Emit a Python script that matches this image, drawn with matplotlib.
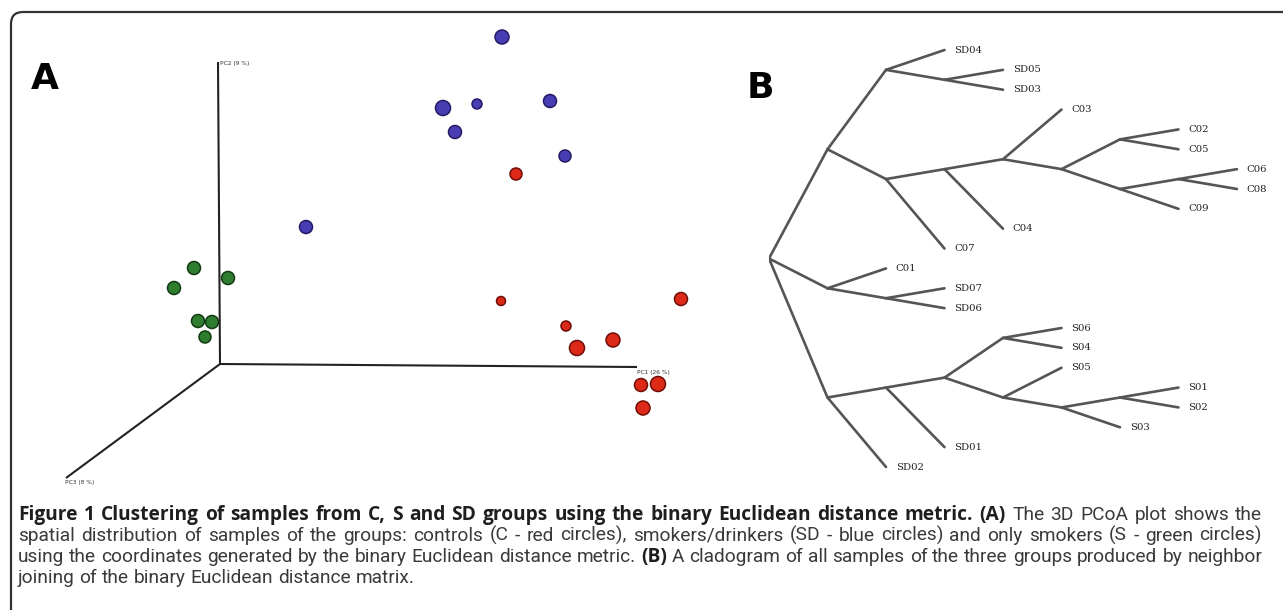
import numpy as np
import matplotlib
matplotlib.use("Agg")
import matplotlib.pyplot as plt
from matplotlib.patches import FancyBboxPatch

W, H, DPI = 1283, 610, 100

# ---- panel A: projected PCoA coordinates (screen units, origin = corner of the axes)
sd_x = [2.82, 2.23, 2.57, 3.30, 2.35, 3.45, 0.86]
sd_y = [3.27, 2.56, 2.60, 2.63, 2.32, 2.08, 1.37]
sd_depth = [0.71, 0.86, 0.14, 0.57, 0.57, 0.43, 0.57]

c_x = [2.96, 2.81, 4.61, 3.46, 3.57, 3.93, 4.21, 4.38, 4.23]
c_y = [1.90, 0.63, 0.65, 0.38, 0.16, 0.24, -0.21, -0.20, -0.44]
c_depth = [0.43, 0.00, 0.57, 0.14, 0.86, 0.71, 0.57, 0.86, 0.71]

s_x = [-0.26, 0.08, -0.46, -0.22, -0.08, -0.15]
s_y = [0.96, 0.86, 0.76, 0.43, 0.42, 0.27]
s_depth = [0.57, 0.57, 0.57, 0.57, 0.57, 0.43]

axis_labels = ["PC1 (26 %)", "PC2 (9 %)", "PC3 (8 %)"]

# ---- panel B: neighbor joining cladogram topology
tree = ((("SD04", ("SD05", "SD03")),
         ((("C03", (("C02", "C05"), (("C06", "C08"), "C09"))), "C04"), "C07")),
        ("C01", ("SD07", "SD06")),
        (((("S06", "S04"), ("S05", (("S01", "S02"), "S03"))), "SD01"), "SD02"))

caption = [
    [("Figure 1 Clustering of samples from C, S and SD groups using the binary Euclidean distance metric.", True),
     ("(A)", True), ("The 3D PCoA plot shows the", False)],
    [("spatial distribution of samples of the groups: controls (C - red circles), smokers/drinkers "
      "(SD - blue circles) and only smokers (S - green circles)", False)],
    [("using the coordinates generated by the binary Euclidean distance metric.", False), ("(B)", True),
     ("A cladogram of all samples of the three groups produced by neighbor", False)],
    [("joining of the binary Euclidean distance matrix.", False)],
]
bold_family = "Open Sans"
reg_family = "Roboto"

fig = plt.figure(figsize=(W / DPI, H / DPI), dpi=DPI)
fig.patch.set_facecolor("white")

# background axes in pixel units: frame, panel letters, caption
bg = fig.add_axes([0, 0, 1, 1])
bg.set_xlim(0, W)
bg.set_ylim(H, 0)
bg.axis("off")
frame = FancyBboxPatch((11, 12), W + 100, H + 100, boxstyle="round,pad=0,rounding_size=12",
                       fill=False, ec="#333333", lw=1.6)
bg.add_patch(frame)
bg.text(31, 89, "A", fontsize=26, fontweight="heavy", family="DejaVu Sans", va="baseline", ha="left")
bg.text(747, 98, "B", fontsize=26, fontweight="heavy", family="DejaVu Sans", va="baseline", ha="left")

# caption: words laid out one by one, lines 1-3 justified
renderer = fig.canvas.get_renderer()


def font_kw(bold, size):
    if bold:
        return dict(fontsize=size, family=bold_family, fontweight="bold")
    return dict(fontsize=size, family=reg_family, fontweight="normal")


def word_width(s, bold, size):
    t = bg.text(0, 0, s, **font_kw(bold, size))
    w = t.get_window_extent(renderer).width
    t.remove()
    return w


def split_words(line):
    return [(w, b) for s, b in line for w in s.split()]


left, right = 18, 1262
base = 10
space0 = word_width("a b", False, base) - word_width("ab", False, base)
natural = []
for line in caption:
    words = split_words(line)
    natural.append(sum(word_width(w, b, base) for w, b in words) + space0 * (len(words) - 1))
cap_size = base * (right - left) / max(natural[:3])

baselines = [520, 541, 562, 583]
for i, (line, yb) in enumerate(zip(caption, baselines)):
    words = split_words(line)
    widths = [word_width(w, b, cap_size) for w, b in words]
    if i < 3:
        gap = (right - left - sum(widths)) / (len(words) - 1)
    else:
        gap = space0 * cap_size / base
    x = left
    for (w, b), wd in zip(words, widths):
        bg.text(x, yb, w, color="#1e1e1e" if b else "#3a3a3a", va="baseline", ha="left",
                **font_kw(b, cap_size))
        x += wd + gap

# ---- panel A
axA = fig.add_axes([20 / W, 1 - 504 / H, 740 / W, 500 / H])
axA.set_xlim(-2.0, 5.4)
axA.set_ylim(-1.4, 3.6)
axA.axis("off")
axA.plot([0, 4.17], [0, -0.03], color="#222222", lw=1.5, solid_capstyle="butt")
axA.plot([0, -0.02], [0, 3.02], color="#222222", lw=1.5, solid_capstyle="butt")
axA.plot([0, -1.54], [0, -1.14], color="#222222", lw=1.5, solid_capstyle="butt")
axA.text(4.17, -0.08, axis_labels[0], fontsize=4.2, color="#333333", va="center", ha="left")
axA.text(0.0, 3.01, axis_labels[1], fontsize=4.2, color="#333333", va="center", ha="left")
axA.text(-1.55, -1.18, axis_labels[2], fontsize=4.2, color="#333333", va="center", ha="left")


def sizes(depth):
    r = 4.5 + 3.5 * np.asarray(depth)  # radius in pixels
    return (2 * r * 72 / DPI) ** 2


groups = [(s_x, s_y, s_depth, "#2f7d2f", "#123a12"),
          (sd_x, sd_y, sd_depth, "#4a3db3", "#221a66"),
          (c_x, c_y, c_depth, "#dd2a18", "#6e0d05")]
for gx, gy, gd, fc, ec in groups:
    order = np.argsort(gd)
    gx, gy, gd = np.asarray(gx)[order], np.asarray(gy)[order], np.asarray(gd)[order]
    axA.scatter(gx, gy, s=sizes(gd), c=fc, edgecolors=ec, linewidths=1.1, zorder=3)

# ---- panel B
segs, leaves = [], []


def layout(node, depth):
    if isinstance(node, str):
        leaves.append((node, depth, len(leaves)))
        return depth, [leaves[-1][2]]
    rows, kids = [], []
    for ch in node:
        kx, kr = layout(ch, depth + 1)
        kids.append((kx, np.mean(kr)))
        rows += kr
    y = np.mean(rows)
    for kx, ky in kids:
        segs.append(([depth, kx], [y, ky]))
    return depth, rows


layout(tree, 0)

step_x, step_y = 58.5, 19.857
axB = fig.add_axes([769 / W, 1 - (467 + step_y / 2) / H, 8.5 * step_x / W, 22 * step_y / H])
axB.set_xlim(0, 8.5)
axB.set_ylim(21.5, -0.5)
axB.axis("off")
for xs, ys in segs:
    axB.plot(xs, ys, color="#555555", lw=1.9, solid_capstyle="round")
for name, d, row in leaves:
    axB.annotate(name, (d, row), xytext=(7, 0), textcoords="offset points", fontsize=7.3,
                 family="DejaVu Serif", color="#222222", va="center", ha="left", annotation_clip=False)

fig.savefig("out.png", dpi=DPI)
